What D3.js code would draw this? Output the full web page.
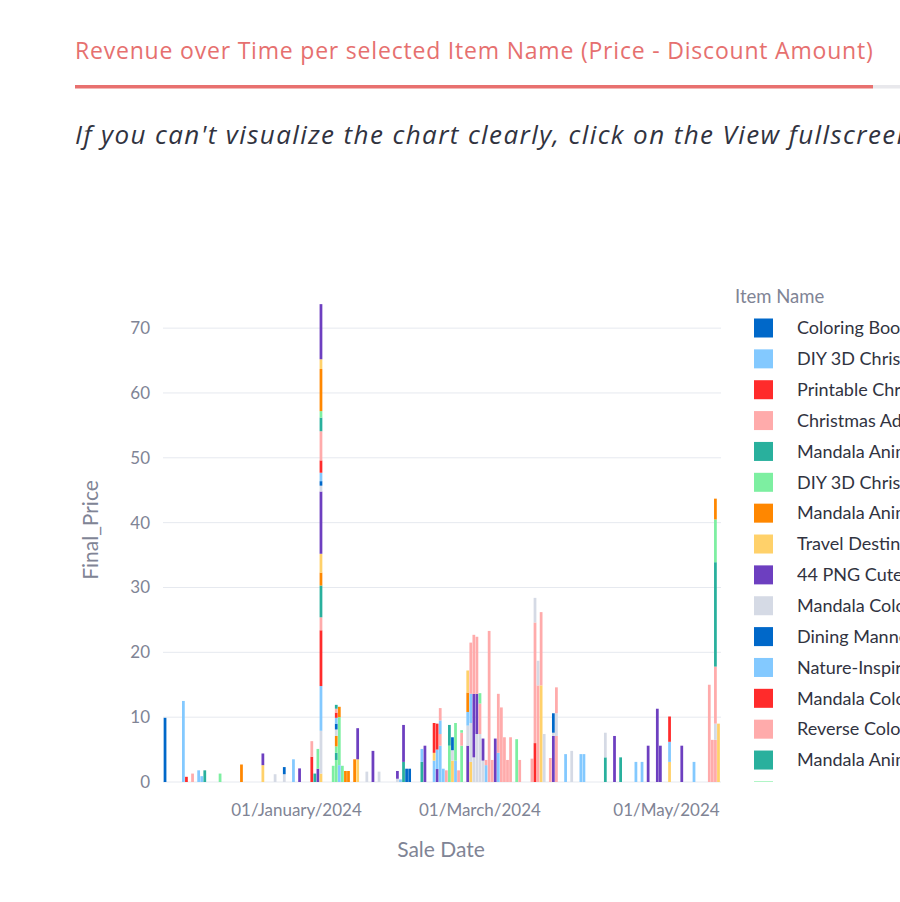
<!DOCTYPE html>
<html>
<head>
<meta charset="utf-8">
<script src="https://cdn.jsdelivr.net/npm/d3@7"></script>
<style>
  body { margin: 0; background: #fff; overflow: hidden; }
  svg { display: block; }
</style>
</head>
<body>
<svg id="chart" width="900" height="902"></svg>
<script>
var itemNames = [
  "Coloring Book for Adults - Printable PDF",
  "DIY 3D Christmas Ornaments Printable",
  "Printable Christmas Coloring Pages",
  "Christmas Advent Calendar Printable",
  "Mandala Animals Coloring Pages - Set 1",
  "DIY 3D Christmas Village Papercraft",
  "Mandala Animals Coloring Pages - Set 2",
  "Travel Destinations Coloring Book",
  "44 PNG Cute Christmas Clipart",
  "Mandala Coloring Pages for Kids",
  "Dining Manners Printable Poster",
  "Nature-Inspired Coloring Pages",
  "Mandala Coloring Book - 50 Pages",
  "Reverse Coloring Book Printable",
  "Mandala Animals Coloring Pages - Set 3",
  "Winter Wonderland Coloring Pages",
  "Mandala Flowers Coloring Pages",
  "Ocean Animals Coloring Book",
  "Kawaii Stickers PNG Bundle",
  "Mandala Coloring Pages - Easy",
  "Daily Planner Printable",
  "Botanical Wall Art Printables",
  "Valentine's Day Coloring Pages",
  "Reverse Coloring Book Vol. 2",
  "Mandala Animals Coloring Pages - Set 4",
  "Spring Flowers Coloring Pages",
  "Mandala Birds Coloring Pages",
  "Travel Journal Printable",
  "Easter Coloring Pages PNG"
];

var palette = ["#0068c9", "#83c9ff", "#ff2b2b", "#ffabab", "#29b09d",
               "#7defa1", "#ff8700", "#ffd16a", "#6d3fc0", "#d5dae5"];

// [sale date, item index, final price]
var sales = [
  ["2023-11-19", 0, 9.9],
  ["2023-11-25", 1, 12.5],
  ["2023-11-26", 2, 0.8],
  ["2023-11-28", 3, 1.3],
  ["2023-11-30", 1, 1.8],
  ["2023-12-01", 1, 0.9],
  ["2023-12-02", 4, 1.8],
  ["2023-12-07", 5, 1.3],
  ["2023-12-14", 6, 2.7],
  ["2023-12-21", 7, 2.6], ["2023-12-21", 8, 1.8],
  ["2023-12-25", 9, 1.2],
  ["2023-12-28", 9, 1.2], ["2023-12-28", 10, 1.1],
  ["2023-12-31", 1, 3.5],
  ["2024-01-02", 8, 2.1],
  ["2024-01-06", 2, 3.9], ["2024-01-06", 3, 2.4],
  ["2024-01-07", 4, 1.3],
  ["2024-01-08", 8, 2.05], ["2024-01-08", 15, 3.05],
  ["2024-01-09", 7, 1.3], ["2024-01-09", 9, 6.6], ["2024-01-09", 11, 6.9],
  ["2024-01-09", 12, 8.6], ["2024-01-09", 13, 2.0], ["2024-01-09", 14, 4.9],
  ["2024-01-09", 16, 2.0], ["2024-01-09", 17, 2.9], ["2024-01-09", 18, 9.6],
  ["2024-01-09", 19, 0.9], ["2024-01-09", 20, 0.7], ["2024-01-09", 21, 1.3],
  ["2024-01-09", 22, 1.9], ["2024-01-09", 23, 4.5], ["2024-01-09", 24, 2.1],
  ["2024-01-09", 25, 1.0], ["2024-01-09", 26, 6.5], ["2024-01-09", 27, 1.5],
  ["2024-01-09", 28, 8.5],
  ["2024-01-13", 5, 2.5],
  ["2024-01-14", 5, 3.4], ["2024-01-14", 14, 1.1], ["2024-01-14", 15, 1.0],
  ["2024-01-14", 16, 1.6], ["2024-01-14", 19, 1.0], ["2024-01-14", 20, 0.9],
  ["2024-01-14", 21, 0.9], ["2024-01-14", 22, 0.8], ["2024-01-14", 23, 0.6],
  ["2024-01-14", 24, 0.6],
  ["2024-01-15", 1, 2.6], ["2024-01-15", 5, 7.4], ["2024-01-15", 6, 1.6],
  ["2024-01-16", 5, 2.5],
  ["2024-01-17", 6, 1.7],
  ["2024-01-18", 6, 1.7],
  ["2024-01-20", 6, 3.5],
  ["2024-01-21", 7, 3.5], ["2024-01-21", 8, 4.8],
  ["2024-01-24", 9, 1.6],
  ["2024-01-26", 8, 4.8],
  ["2024-01-28", 9, 1.6],
  ["2024-02-03", 9, 0.5], ["2024-02-03", 18, 1.2],
  ["2024-02-04", 1, 0.4],
  ["2024-02-05", 4, 3.1], ["2024-02-05", 8, 5.7],
  ["2024-02-06", 0, 2.05],
  ["2024-02-07", 0, 2.05],
  ["2024-02-11", 4, 3.1], ["2024-02-11", 11, 2.0],
  ["2024-02-12", 8, 5.6],
  ["2024-02-15", 1, 3.3], ["2024-02-15", 7, 1.2], ["2024-02-15", 12, 4.6],
  ["2024-02-16", 8, 2.0], ["2024-02-16", 11, 3.0], ["2024-02-16", 12, 4.0],
  ["2024-02-17", 1, 5.6], ["2024-02-17", 3, 1.8], ["2024-02-17", 11, 2.1], ["2024-02-17", 13, 1.9],
  ["2024-02-18", 1, 2.05],
  ["2024-02-19", 3, 1.8],
  ["2024-02-20", 5, 5.6], ["2024-02-20", 14, 3.2],
  ["2024-02-21", 7, 3.3], ["2024-02-21", 9, 1.6], ["2024-02-21", 10, 2.0],
  ["2024-02-22", 1, 3.3], ["2024-02-22", 5, 5.8],
  ["2024-02-23", 3, 1.8],
  ["2024-02-24", 5, 5.6], ["2024-02-24", 13, 2.0], ["2024-02-24", 15, 0.4],
  ["2024-02-26", 8, 5.6], ["2024-02-26", 9, 3.1], ["2024-02-26", 11, 2.1],
  ["2024-02-26", 16, 3.0], ["2024-02-26", 17, 3.4],
  ["2024-02-27", 7, 3.1], ["2024-02-27", 9, 6.0], ["2024-02-27", 11, 4.5], ["2024-02-27", 13, 7.9],
  ["2024-02-28", 9, 3.8], ["2024-02-28", 18, 9.8], ["2024-02-28", 23, 9.1],
  ["2024-02-29", 9, 7.4], ["2024-02-29", 18, 6.2], ["2024-02-29", 23, 8.8],
  ["2024-03-01", 9, 7.4], ["2024-03-01", 13, 4.7], ["2024-03-01", 15, 1.6],
  ["2024-03-02", 9, 3.3], ["2024-03-02", 18, 3.4],
  ["2024-03-03", 1, 2.6], ["2024-03-03", 3, 0.8],
  ["2024-03-04", 3, 23.3],
  ["2024-03-05", 3, 3.4],
  ["2024-03-06", 8, 6.7],
  ["2024-03-07", 1, 4.5], ["2024-03-07", 13, 9.1],
  ["2024-03-08", 3, 11.5],
  ["2024-03-09", 3, 6.9],
  ["2024-03-10", 3, 3.4],
  ["2024-03-11", 3, 6.9],
  ["2024-03-13", 5, 6.6],
  ["2024-03-14", 3, 3.4],
  ["2024-03-18", 3, 3.6],
  ["2024-03-19", 2, 6.0], ["2024-03-19", 3, 18.6], ["2024-03-19", 9, 3.8],
  ["2024-03-20", 3, 14.9], ["2024-03-20", 9, 3.8],
  ["2024-03-21", 7, 14.9], ["2024-03-21", 13, 11.3],
  ["2024-03-22", 9, 7.4],
  ["2024-03-24", 3, 3.7],
  ["2024-03-25", 8, 7.1], ["2024-03-25", 9, 0.5], ["2024-03-25", 10, 3.0],
  ["2024-03-26", 3, 7.1], ["2024-03-26", 9, 3.5], ["2024-03-26", 13, 4.0],
  ["2024-03-29", 1, 4.3],
  ["2024-03-31", 9, 4.8],
  ["2024-04-03", 1, 4.3],
  ["2024-04-04", 1, 4.3],
  ["2024-04-11", 4, 3.8], ["2024-04-11", 9, 3.8],
  ["2024-04-14", 8, 7.1],
  ["2024-04-16", 4, 3.8],
  ["2024-04-21", 1, 3.1],
  ["2024-04-23", 1, 3.1],
  ["2024-04-25", 8, 5.6],
  ["2024-04-28", 8, 11.3],
  ["2024-04-29", 8, 5.6],
  ["2024-05-02", 7, 3.1], ["2024-05-02", 11, 3.1], ["2024-05-02", 12, 3.9],
  ["2024-05-06", 8, 5.6],
  ["2024-05-10", 1, 3.1],
  ["2024-05-15", 3, 15.0],
  ["2024-05-16", 3, 6.5],
  ["2024-05-17", 3, 6.5], ["2024-05-17", 9, 2.5], ["2024-05-17", 13, 8.8],
  ["2024-05-17", 14, 16.1], ["2024-05-17", 15, 6.6], ["2024-05-17", 16, 3.2],
  ["2024-05-18", 7, 9.0]
];

var yTicks = [0, 10, 20, 30, 40, 50, 60, 70];
var xTicks = ["2024-01-01", "2024-03-01", "2024-05-01"];

var svg = d3.select("#chart");
var parse = d3.utcParse("%Y-%m-%d");
var fmt = d3.utcFormat("%d/%B/%Y");
var DAY = 864e5;
var plotFont = "'Source Sans Pro', Lato, sans-serif";

// ---- page header ----
svg.append("text")
  .attr("x", 75).attr("y", 59)
  .attr("font-family", "'Open Sans', sans-serif")
  .attr("font-size", 23)
  .attr("letter-spacing", 0.8)
  .attr("fill", "#e6706f")
  .text("Revenue over Time per selected Item Name (Price - Discount Amount)");

svg.append("rect").attr("x", 75).attr("y", 85).attr("width", 798).attr("height", 3.5).attr("fill", "#e8706f");
svg.append("rect").attr("x", 873).attr("y", 85).attr("width", 40).attr("height", 3.5).attr("fill", "#e8e8ec");

svg.append("text")
  .attr("x", 75).attr("y", 144)
  .attr("font-family", "'Open Sans', sans-serif")
  .attr("font-style", "italic")
  .attr("font-size", 26)
  .attr("letter-spacing", 1.4)
  .attr("fill", "#31333f")
  .text("If you can't visualize the chart clearly, click on the View fullscreen button on the top right of the chart.");

// ---- scales ----
var dates = sales.map(function(d) { return parse(d[0]); });
var x = d3.scaleUtc()
  .domain([new Date(d3.min(dates) - DAY / 2), new Date(+d3.max(dates) + DAY / 2)])
  .range([163.5, 720]);
var y = d3.scaleLinear().domain([0, 77.5]).range([782, 279.5]);
var color = d3.scaleOrdinal().domain(d3.range(itemNames.length)).range(palette);

// grid
svg.append("g").selectAll("line").data(yTicks).join("line")
  .attr("x1", 163).attr("x2", 721)
  .attr("y1", function(d) { return y(d); }).attr("y2", function(d) { return y(d); })
  .attr("stroke", "#e6e9ef").attr("stroke-width", 1);

// stacked bars, stacked in item order for each date
var segs = [];
d3.group(sales, function(d) { return d[0]; }).forEach(function(rows, dt) {
  var acc = 0;
  rows.slice().sort(function(a, b) { return a[1] - b[1]; }).forEach(function(r) {
    segs.push({ date: parse(dt), item: r[1], y0: acc, y1: acc + r[2] });
    acc += r[2];
  });
});

var bw = (x(new Date(DAY)) - x(new Date(0))) * 0.9;
svg.append("g").selectAll("rect").data(segs).join("rect")
  .attr("x", function(d) { return x(d.date) - bw / 2; })
  .attr("width", bw)
  .attr("y", function(d) { return y(d.y1); })
  .attr("height", function(d) { return y(d.y0) - y(d.y1); })
  .attr("fill", function(d) { return color(d.item); });

// y axis labels
svg.append("g").selectAll("text").data(yTicks).join("text")
  .attr("x", 150).attr("y", function(d) { return y(d); })
  .attr("dy", "0.35em")
  .attr("text-anchor", "end")
  .attr("font-family", plotFont).attr("font-size", 17)
  .attr("fill", "#808495")
  .text(function(d) { return d; });

// x axis labels
svg.append("g").selectAll("text").data(xTicks).join("text")
  .attr("x", function(d) { return x(parse(d)); }).attr("y", 816)
  .attr("text-anchor", "middle")
  .attr("font-family", plotFont).attr("font-size", 17)
  .attr("fill", "#808495")
  .text(function(d) { return fmt(parse(d)); });

// axis titles
svg.append("text")
  .attr("x", 441).attr("y", 857)
  .attr("text-anchor", "middle")
  .attr("font-family", plotFont).attr("font-size", 21)
  .attr("fill", "#808495")
  .text("Sale Date");

svg.append("text")
  .attr("transform", "translate(98,530) rotate(-90)")
  .attr("text-anchor", "middle")
  .attr("font-family", plotFont).attr("font-size", 21)
  .attr("fill", "#808495")
  .text("Final_Price");

// legend (clipped to the plot height, like the scrolling original)
svg.append("clipPath").attr("id", "legclip")
  .append("rect").attr("x", 720).attr("y", 270).attr("width", 200).attr("height", 512);

var legend = svg.append("g").attr("clip-path", "url(#legclip)");
legend.append("text")
  .attr("x", 735).attr("y", 303)
  .attr("font-family", plotFont).attr("font-size", 18.5)
  .attr("fill", "#808495")
  .text("Item Name");

var rows = legend.selectAll("g.item").data(itemNames).join("g")
  .attr("class", "item")
  .attr("transform", function(d, i) { return "translate(0," + (328 + i * 30.86) + ")"; });
rows.append("rect")
  .attr("x", 754).attr("y", -9.5).attr("width", 19).attr("height", 19)
  .attr("fill", function(d, i) { return color(i); });
rows.append("text")
  .attr("x", 797).attr("dy", "0.35em")
  .attr("font-family", plotFont).attr("font-size", 18)
  .attr("fill", "#31333f")
  .text(function(d) { return d; });
</script>
</body>
</html>
